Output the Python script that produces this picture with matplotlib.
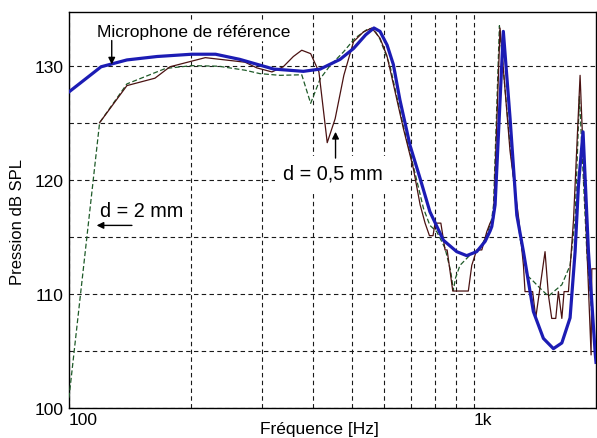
import matplotlib
matplotlib.use("Agg")
import matplotlib.pyplot as plt
from matplotlib.ticker import FixedLocator, NullFormatter

plt.rcParams['font.family'] = ['Liberation Sans', 'DejaVu Sans']

# Reference microphone (blue)
ref_f = [100, 120, 139, 165, 201, 230, 264, 320, 379, 417, 467, 504, 540, 566, 586,
         610, 632, 656, 695, 736, 778, 840, 906, 959, 1015, 1065, 1095, 1106, 1127,
         1181, 1227, 1275, 1324, 1401, 1483, 1570, 1647, 1726, 1776, 1810, 1858,
         1916, 1990, 2000]
ref_db = [127.7, 129.9, 130.5, 130.8, 131.0, 131.0, 130.55, 129.7, 129.5, 129.7, 130.55,
          131.5, 132.7, 133.3, 133.0, 131.8, 130.1, 127.0, 123.0, 120.1, 117.2, 114.7,
          113.7, 113.35, 113.7, 114.6, 115.5, 115.9, 117.8, 133.0, 125.4, 116.9, 113.7,
          108.45, 106.1, 105.2, 105.7, 107.9, 113.7, 119.5, 124.2, 113.7, 104.9, 104.0]

# d = 0,5 mm (brown)
d05_f = [119, 139, 163, 177.5, 217, 272, 291, 317, 338, 358, 375.5, 395, 414, 434, 454,
         477, 504, 533, 559, 586, 609, 620, 669, 708, 736, 757, 776, 792, 801, 828, 848,
         858, 886, 968, 987, 1015, 1045, 1075, 1095, 1117, 1159, 1227, 1290, 1324, 1336,
         1395, 1420, 1497, 1526, 1555, 1591, 1615, 1647, 1668, 1710, 1760, 1827, 1945,
         1953, 2000]
d05_db = [125.0, 128.25, 128.9, 129.9, 130.7, 130.3, 129.8, 129.45, 129.9, 130.8, 131.35,
          131.05, 129.45, 123.25, 125.35, 129.15, 132.1, 132.95, 133.3, 132.4, 130.9,
          129.7, 124.5, 121.0, 117.8, 116.2, 115.1, 115.1, 116.2, 116.2, 113.85, 113.85,
          110.25, 110.25, 112.5, 113.85, 113.85, 115.45, 116.2, 116.6, 133.3, 122.5,
          116.5, 112.5, 110.2, 110.2, 107.9, 113.7, 109.9, 107.85, 107.85, 110.2, 107.85,
          110.2, 110.2, 116.5, 129.15, 104.65, 112.2, 112.2]

# d = 2 mm (green dashed)
d2_f = [100, 119, 139, 173, 201, 234, 272, 296, 332, 375.5, 395, 417, 441, 476, 508, 548,
        566, 586, 620, 669, 708, 750, 778, 809, 848, 876, 889, 900, 923, 977, 1035, 1075,
        1106, 1117, 1155, 1227, 1299, 1349, 1401, 1455, 1526, 1585, 1647, 1726, 1776,
        1820, 1898, 1945, 1990]
d2_db = [100.9, 125.0, 128.4, 129.75, 130.0, 129.95, 129.6, 129.3, 129.15, 129.2, 126.7,
         128.85, 130.0, 131.2, 132.4, 133.25, 133.2, 132.3, 130.0, 124.7, 121.2, 117.5,
         116.0, 115.45, 114.0, 111.95, 110.3, 111.4, 112.5, 113.4, 114.0, 115.15, 116.6,
         117.8, 133.5, 123.0, 114.85, 111.65, 111.1, 110.5, 109.8, 110.3, 110.8, 112.5,
         116.6, 127.3, 113.7, 109.0, 105.0]

y_ticks = [100, 110, 120, 130]
y_grid_minor = [105, 115, 125]
x_ticks = [100, 1000]
x_tick_labels = ["100", "1k"]
x_grid_minor = [200, 300, 400, 500, 600, 700, 800, 900]

fig = plt.figure(figsize=(5.97, 4.39), dpi=100)
ax = fig.add_axes([69/597, 1 - 409/439, 527/597, 396/439])

ax.set_xscale('log')
ax.set_xlim(100, 2000)
ax.set_ylim(100, 134.7)

grid_kw = dict(color='#1a1a1a', lw=0.8, linestyle=(0, (4, 3)))
ax.set_yticks(y_ticks)
ax.yaxis.set_minor_locator(FixedLocator(y_grid_minor))
ax.xaxis.set_major_locator(FixedLocator(x_ticks))
ax.xaxis.set_minor_locator(FixedLocator(x_grid_minor))
ax.xaxis.set_minor_formatter(NullFormatter())
ax.set_xticklabels(x_tick_labels, ha='left')
ax.grid(True, which='both', **grid_kw)
ax.tick_params(which='both', length=0, labelsize=12.5, colors='black')
ax.tick_params(axis='y', pad=4)
ax.tick_params(axis='x', pad=3)
ax.set_axisbelow(True)

ax.plot(d2_f, d2_db, color='#1e5a28', lw=0.9, linestyle=(0, (4, 2)), zorder=3)
ax.plot(d05_f, d05_db, color='#4a1212', lw=0.9, zorder=4)
ax.plot(ref_f, ref_db, color='#1c1cb4', lw=2.3, zorder=5)

for s in ax.spines.values():
    s.set_linewidth(1.0)
    s.set_color('black')

ax.set_xlabel("Fréquence [Hz]", fontsize=12.5, va='center')
ax.xaxis.set_label_coords(0.476, -0.053)
ax.set_ylabel("Pression dB SPL", fontsize=12, va='center')
ax.yaxis.set_label_coords(-0.097, 0.472)

# annotations
ax.text(117, 133.0, "Microphone de référence", fontsize=12.5, ha='left', va='center',
        bbox=dict(facecolor='white', edgecolor='none', pad=1.5), zorder=6)
ax.annotate("", xy=(127.5, 130.1), xytext=(127.5, 132.2),
            arrowprops=dict(arrowstyle='-|>', color='black', lw=1.0,
                            mutation_scale=10, shrinkA=0, shrinkB=0), zorder=7)

ax.text(448, 120.55, "d = 0,5 mm", fontsize=14.3, ha='center', va='center',
        bbox=dict(facecolor='white', edgecolor='none', boxstyle='square,pad=0.4'), zorder=6)
ax.annotate("", xy=(455, 124.2), xytext=(455, 121.9),
            arrowprops=dict(arrowstyle='-|>', color='black', lw=1.0,
                            mutation_scale=10, shrinkA=0, shrinkB=0), zorder=7)

ax.text(119, 117.3, "d = 2 mm", fontsize=14.3, ha='left', va='center', zorder=6)
ax.annotate("", xy=(117, 116.0), xytext=(143, 116.0),
            arrowprops=dict(arrowstyle='-|>', color='black', lw=1.0,
                            mutation_scale=10, shrinkA=0, shrinkB=0), zorder=7)

fig.savefig("out.png", dpi=100)
